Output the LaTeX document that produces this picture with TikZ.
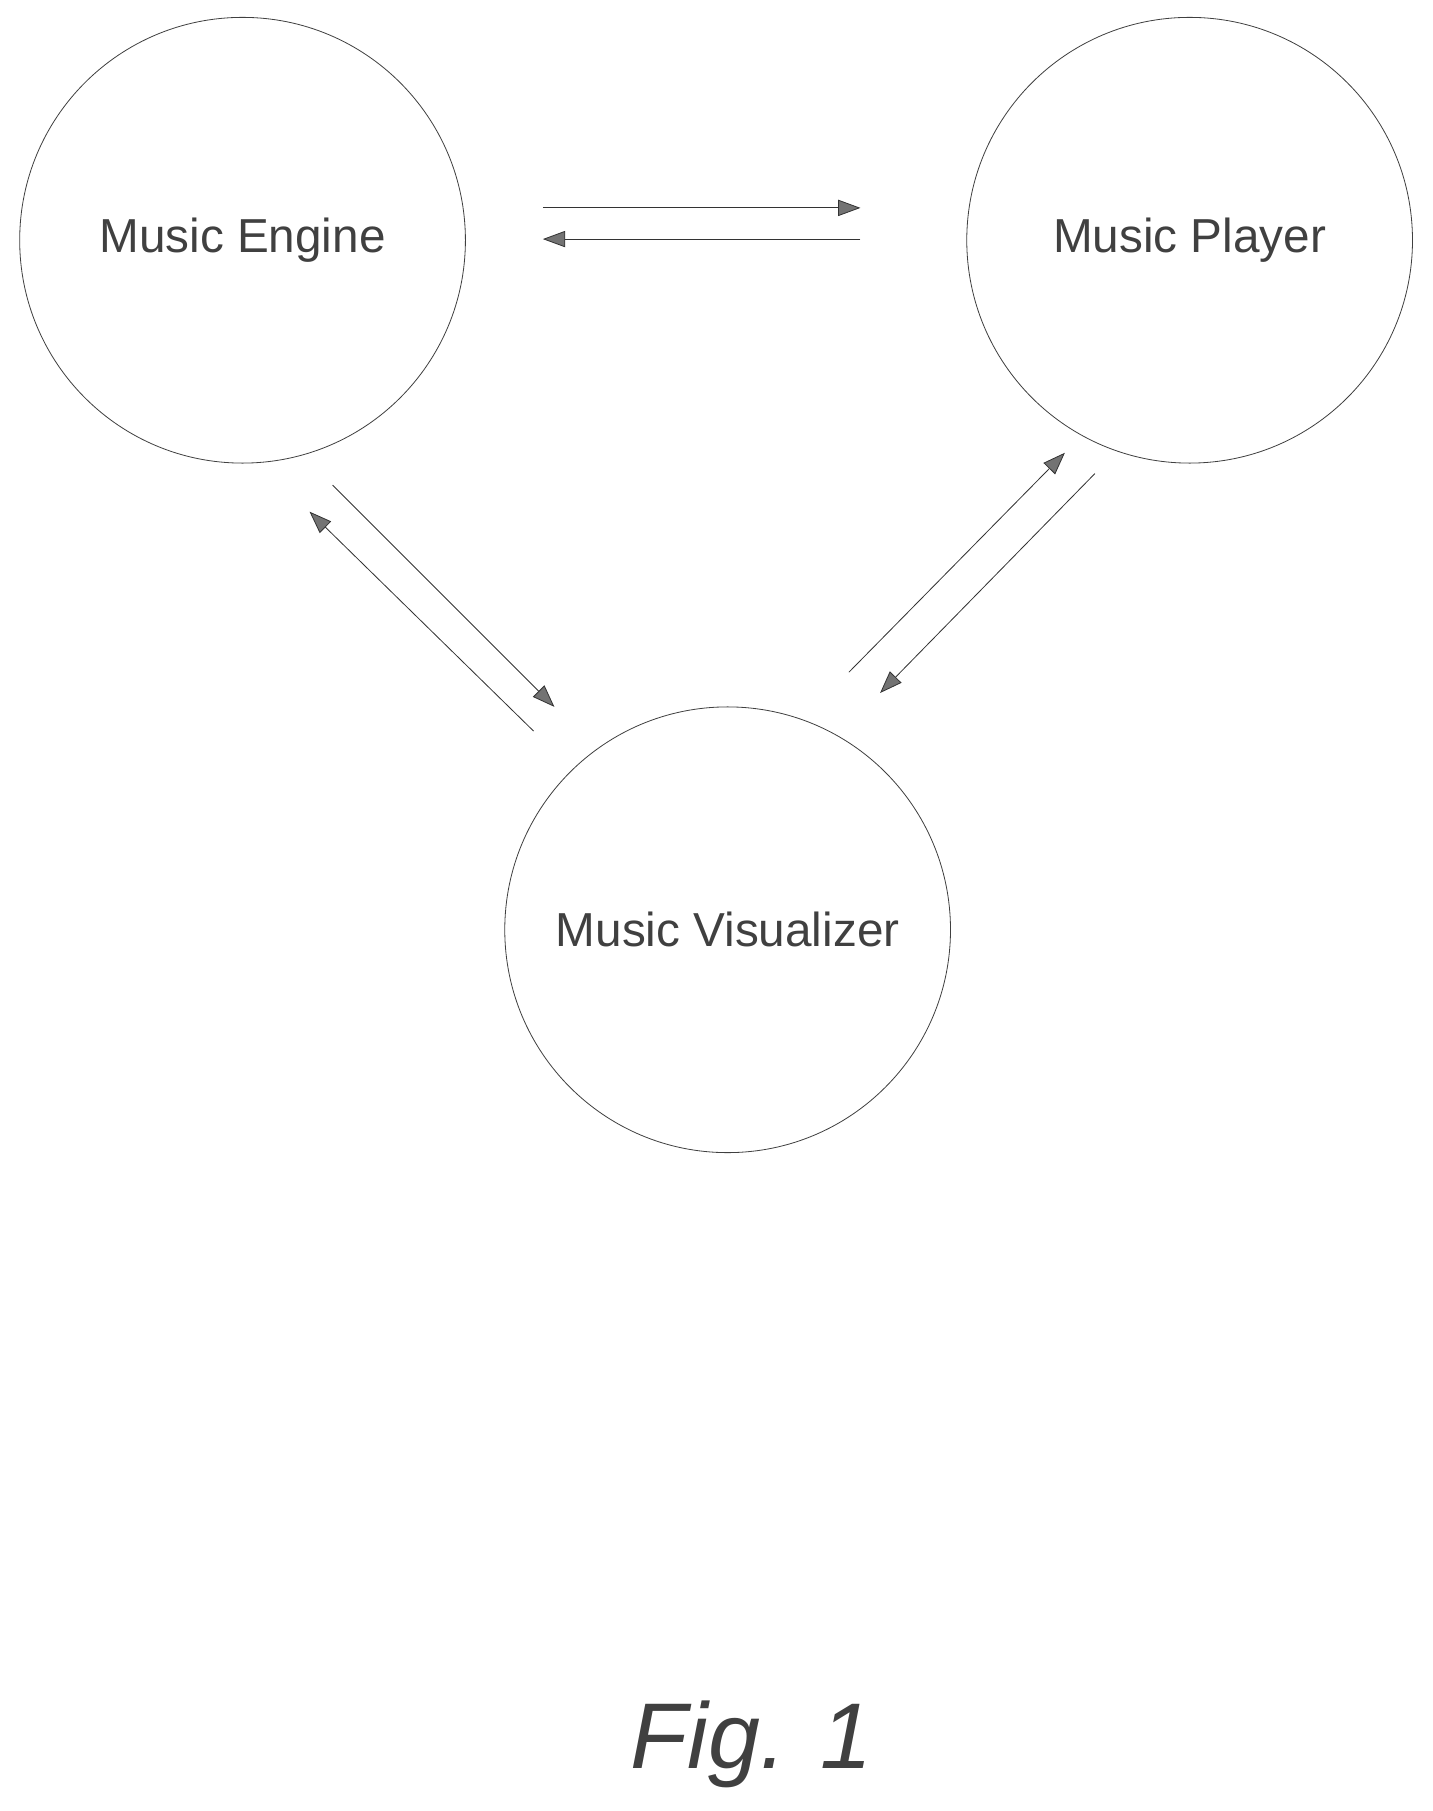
\documentclass[tikz,border=0pt]{standalone}
\usepackage{fontspec}
\setmainfont{Liberation Sans}
\usetikzlibrary{arrows.meta, positioning}
\begin{document}
\begin{tikzpicture}[x=0.02cm, y=-0.02cm,
  module/.style={circle, draw=black!75, thin, minimum size=7.72cm, inner sep=0pt, font=\fontsize{23.5}{28}\selectfont, text=black!75},
  flow/.style={draw=black!80, thin, -{Triangle[length=11pt, width=8pt, fill=black!55]}},
  node distance=1cm
]
\useasboundingbox (0,0) rectangle (1240,1568);

% Nodes
\node[module] (E) at (210,208) {Music Engine};
\node[module] (P) at (1030,208) {Music Player};
\node[module] (V) at (630,805) {Music Visualizer};
\node[font=\fontsize{46}{54}\selectfont\itshape, text=black!75] (F) at (651,1510) {Fig. 1};

% Free ends
\coordinate (EPa) at (470,180);
\coordinate (EPb) at (745,180);
\coordinate (PEa) at (745,207);
\coordinate (PEb) at (470,207);
\coordinate (EVa) at (288,420);
\coordinate (EVb) at (480,612);
\coordinate (VEa) at (462,633);
\coordinate (VEb) at (268,443);
\coordinate (VPa) at (735,582);
\coordinate (VPb) at (922,392);
\coordinate (PVa) at (948,410);
\coordinate (PVb) at (762,600);

% Connections
\draw[flow] (EPa) -- (EPb);
\draw[flow] (PEa) -- (PEb);
\draw[flow] (EVa) -- (EVb);
\draw[flow] (VEa) -- (VEb);
\draw[flow] (VPa) -- (VPb);
\draw[flow] (PVa) -- (PVb);

\end{tikzpicture}
\end{document}
